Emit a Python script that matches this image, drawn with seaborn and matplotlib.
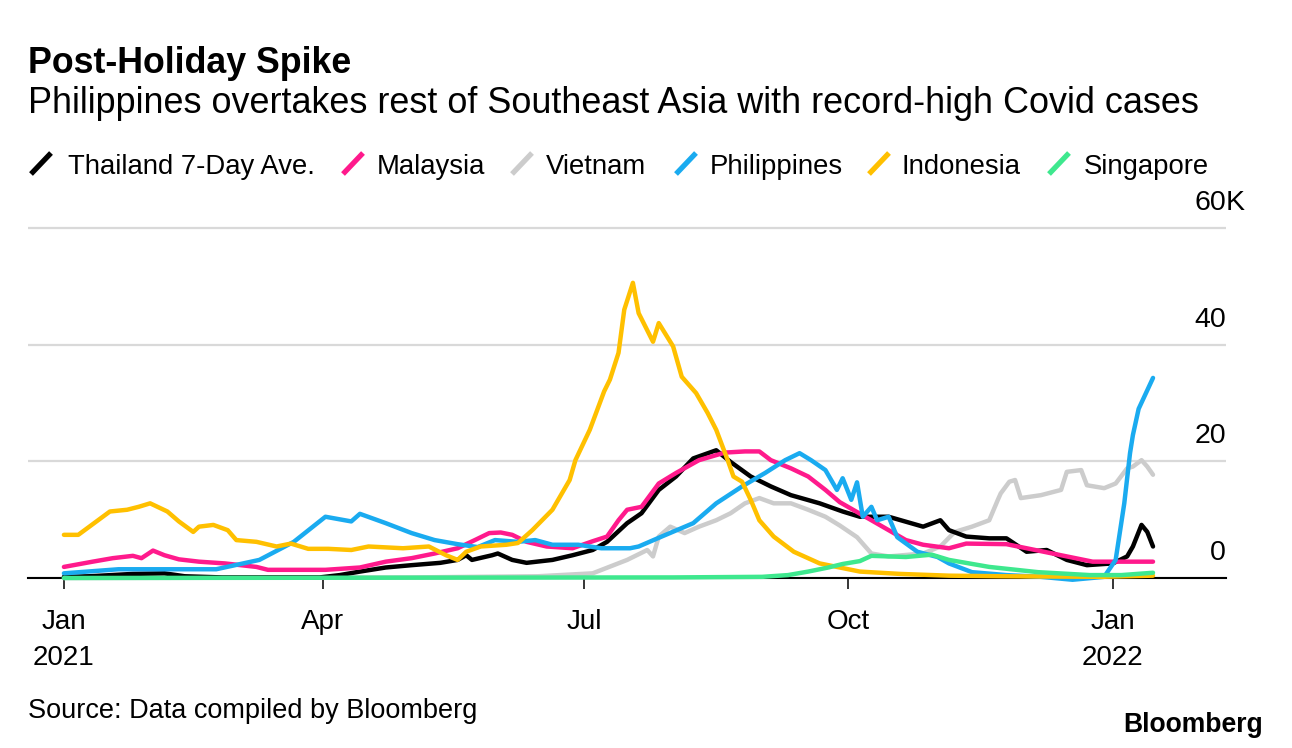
import numpy as np
import pandas as pd
import matplotlib
matplotlib.use("Agg")
import matplotlib.pyplot as plt
import seaborn as sns
from matplotlib.lines import Line2D
from matplotlib import font_manager

# ---------------- data (thousands of daily cases, 7-day average) ----------------
countries = ["Thailand 7-Day Ave.", "Malaysia", "Vietnam", "Philippines", "Indonesia", "Singapore"]
colors = ["#000000", "#ff1a8c", "#cccccc", "#1aabf0", "#ffc000", "#3ee88e"]

thailand_dates = ["2021-01-01", "2021-01-10", "2021-01-25", "2021-02-05", "2021-02-12", "2021-02-25",
                  "2021-03-31", "2021-04-07", "2021-04-14", "2021-04-23", "2021-05-02", "2021-05-12",
                  "2021-05-18", "2021-05-21", "2021-05-23", "2021-05-30", "2021-06-01", "2021-06-06",
                  "2021-06-11", "2021-06-20", "2021-06-27", "2021-07-04", "2021-07-09", "2021-07-16",
                  "2021-07-21", "2021-07-27", "2021-08-02", "2021-08-08", "2021-08-16", "2021-08-21",
                  "2021-08-28", "2021-09-04", "2021-09-11", "2021-09-21", "2021-09-29", "2021-10-05",
                  "2021-10-15", "2021-10-27", "2021-11-02", "2021-11-05", "2021-11-11", "2021-11-19",
                  "2021-11-25", "2021-12-02", "2021-12-09", "2021-12-16", "2021-12-23", "2022-01-01",
                  "2022-01-06", "2022-01-08", "2022-01-11", "2022-01-13", "2022-01-15"]
thailand_vals = [0.2, 0.3, 0.7, 0.8, 0.3, 0.1,
                 0.1, 0.5, 1.1, 1.8, 2.2, 2.6,
                 3.1, 3.9, 3.1, 3.9, 4.2, 3.1,
                 2.6, 3.1, 3.9, 4.8, 6.2, 9.4,
                 11.1, 15.1, 17.4, 20.5, 21.9, 19.9,
                 17.4, 15.7, 14.2, 12.8, 11.4, 10.5,
                 10.5, 8.8, 9.9, 8.2, 7.1, 6.8,
                 6.8, 4.5, 4.8, 3.1, 2.2, 2.5,
                 3.7, 5.4, 9.1, 7.9, 5.4]

malaysia_dates = ["2021-01-01", "2021-01-11", "2021-01-18", "2021-01-25", "2021-01-28", "2021-02-01",
                  "2021-02-05", "2021-02-10", "2021-02-17", "2021-02-26", "2021-03-09", "2021-03-13",
                  "2021-04-02", "2021-04-14", "2021-04-23", "2021-05-02", "2021-05-10", "2021-05-18",
                  "2021-05-24", "2021-05-29", "2021-06-02", "2021-06-06", "2021-06-11", "2021-06-18",
                  "2021-06-27", "2021-07-04", "2021-07-09", "2021-07-13", "2021-07-16", "2021-07-21",
                  "2021-07-27", "2021-08-02", "2021-08-10", "2021-08-19", "2021-08-26", "2021-08-31",
                  "2021-09-04", "2021-09-11", "2021-09-17", "2021-09-23", "2021-09-28", "2021-10-09",
                  "2021-10-21", "2021-10-27", "2021-11-05", "2021-11-11", "2021-11-25", "2021-12-02",
                  "2021-12-16", "2021-12-25", "2022-01-04", "2022-01-15"]
malaysia_vals = [1.9, 2.8, 3.4, 3.8, 3.4, 4.7,
                 3.9, 3.2, 2.8, 2.5, 1.9, 1.4,
                 1.4, 1.8, 2.8, 3.4, 4.2, 5.1,
                 6.5, 7.7, 7.8, 7.4, 6.2, 5.4,
                 5.1, 6.3, 7.1, 9.9, 11.7, 12.2,
                 16.2, 18.0, 20.2, 21.5, 21.7, 21.7,
                 20.2, 18.8, 17.4, 15.1, 13.0, 9.9,
                 6.5, 5.7, 5.1, 5.9, 5.8, 5.1,
                 3.7, 2.8, 2.8, 2.8]

vietnam_dates = ["2021-01-01", "2021-05-01", "2021-06-15", "2021-07-04", "2021-07-16", "2021-07-23",
                 "2021-07-25", "2021-07-27", "2021-07-31", "2021-08-05", "2021-08-10", "2021-08-16",
                 "2021-08-21", "2021-08-26", "2021-08-31", "2021-09-05", "2021-09-11", "2021-09-17",
                 "2021-09-23", "2021-09-28", "2021-10-04", "2021-10-09", "2021-10-15", "2021-10-27",
                 "2021-11-02", "2021-11-07", "2021-11-13", "2021-11-19", "2021-11-22", "2021-11-23",
                 "2021-11-26", "2021-11-28", "2021-11-30", "2021-12-07", "2021-12-14", "2021-12-16",
                 "2021-12-21", "2021-12-23", "2021-12-29", "2022-01-02", "2022-01-06", "2022-01-08",
                 "2022-01-11", "2022-01-13", "2022-01-15"]
vietnam_vals = [0.0, 0.1, 0.3, 0.8, 3.1, 4.8,
                3.7, 7.1, 8.8, 7.7, 8.8, 9.9,
                11.1, 12.8, 13.7, 12.8, 12.8, 11.7,
                10.5, 9.0, 7.0, 4.2, 3.7, 4.2,
                5.4, 7.9, 8.8, 9.9, 13.4, 14.5,
                16.5, 16.8, 13.7, 14.2, 15.1, 18.2,
                18.5, 15.9, 15.4, 16.2, 18.8, 19.1,
                20.2, 19.1, 17.7]

philippines_dates = ["2021-01-01", "2021-01-20", "2021-02-23", "2021-03-10", "2021-03-22", "2021-04-02",
                     "2021-04-11", "2021-04-14", "2021-04-23", "2021-05-02", "2021-05-10", "2021-05-18",
                     "2021-05-25", "2021-05-31", "2021-06-08", "2021-06-14", "2021-06-20", "2021-06-29",
                     "2021-07-07", "2021-07-17", "2021-07-20", "2021-07-28", "2021-08-08", "2021-08-16",
                     "2021-08-25", "2021-09-02", "2021-09-09", "2021-09-14", "2021-09-18", "2021-09-23",
                     "2021-09-27", "2021-09-29", "2021-10-02", "2021-10-04", "2021-10-06", "2021-10-09",
                     "2021-10-11", "2021-10-15", "2021-10-18", "2021-10-25", "2021-11-01", "2021-11-05",
                     "2021-11-13", "2021-11-25", "2021-12-07", "2021-12-18", "2021-12-29", "2022-01-02",
                     "2022-01-05", "2022-01-07", "2022-01-08", "2022-01-10", "2022-01-15"]
philippines_vals = [0.8, 1.5, 1.5, 3.1, 6.2, 10.5,
                    9.7, 11.0, 9.4, 7.7, 6.5, 5.8,
                    5.3, 6.5, 6.2, 6.5, 5.7, 5.7,
                    5.1, 5.1, 5.4, 7.1, 9.4, 12.8,
                    15.7, 18.0, 20.2, 21.4, 20.2, 18.5,
                    15.1, 17.1, 13.4, 16.4, 10.5, 12.2,
                    9.9, 10.5, 7.0, 4.5, 3.6, 2.5,
                    1.0, 0.5, 0.2, -0.3, 0.2, 3.1,
                    12.8, 21.4, 24.5, 29.0, 34.3]

indonesia_dates = ["2021-01-01", "2021-01-06", "2021-01-17", "2021-01-23", "2021-01-27", "2021-01-31",
                   "2021-02-06", "2021-02-10", "2021-02-15", "2021-02-17", "2021-02-22", "2021-02-27",
                   "2021-03-02", "2021-03-09", "2021-03-16", "2021-03-21", "2021-03-27", "2021-04-03",
                   "2021-04-11", "2021-04-17", "2021-04-29", "2021-05-08", "2021-05-14", "2021-05-18",
                   "2021-05-21", "2021-05-26", "2021-06-04", "2021-06-08", "2021-06-13", "2021-06-20",
                   "2021-06-22", "2021-06-26", "2021-06-28", "2021-07-03", "2021-07-08", "2021-07-10",
                   "2021-07-13", "2021-07-15", "2021-07-18", "2021-07-20", "2021-07-25", "2021-07-27",
                   "2021-08-01", "2021-08-04", "2021-08-09", "2021-08-13", "2021-08-16", "2021-08-20",
                   "2021-08-22", "2021-08-25", "2021-08-28", "2021-08-31", "2021-09-05", "2021-09-12",
                   "2021-09-21", "2021-09-29", "2021-10-05", "2021-10-19", "2021-11-05", "2021-11-23",
                   "2021-12-28", "2022-01-15"]
indonesia_vals = [7.4, 7.4, 11.4, 11.7, 12.2, 12.8,
                  11.4, 9.7, 7.9, 8.8, 9.1, 8.2,
                  6.5, 6.2, 5.4, 5.9, 5.0, 5.0,
                  4.8, 5.4, 5.1, 5.4, 3.9, 3.1,
                  4.5, 5.4, 5.7, 6.0, 8.2, 11.7,
                  13.4, 16.8, 20.2, 25.4, 32.0, 34.0,
                  38.6, 46.0, 50.6, 45.4, 40.5, 43.7,
                  39.7, 34.5, 31.7, 28.3, 25.4, 20.2,
                  17.4, 16.5, 13.4, 9.9, 7.1, 4.5,
                  2.5, 1.7, 1.1, 0.7, 0.4, 0.3,
                  0.2, 0.4]

singapore_dates = ["2021-01-01", "2021-08-01", "2021-09-01", "2021-09-10", "2021-09-17", "2021-09-24",
                   "2021-09-29", "2021-10-05", "2021-10-09", "2021-10-21", "2021-10-30", "2021-11-05",
                   "2021-11-19", "2021-12-06", "2021-12-24", "2022-01-04", "2022-01-15"]
singapore_vals = [0.0, 0.1, 0.2, 0.5, 1.1, 1.8,
                  2.4, 2.9, 3.8, 3.6, 4.0, 3.1,
                  1.9, 1.0, 0.5, 0.5, 0.9]

x_ticks = ["2021-01-01", "2021-04-01", "2021-07-01", "2021-10-01", "2022-01-01"]
x_tick_labels = ["Jan\n2021", "Apr", "Jul", "Oct", "Jan\n2022"]
y_ticks = [0, 20, 40, 60]
y_tick_labels = ["0", "20", "40", "60"]

title = "Post-Holiday Spike"
subtitle = "Philippines overtakes rest of Southeast Asia with record-high Covid cases"
source = "Source: Data compiled by Bloomberg"

# ---------------- build long-form frame ----------------
series = {
    "Thailand 7-Day Ave.": (thailand_dates, thailand_vals),
    "Malaysia": (malaysia_dates, malaysia_vals),
    "Vietnam": (vietnam_dates, vietnam_vals),
    "Philippines": (philippines_dates, philippines_vals),
    "Indonesia": (indonesia_dates, indonesia_vals),
    "Singapore": (singapore_dates, singapore_vals),
}
frames = []
for name, (d, v) in series.items():
    frames.append(pd.DataFrame({"date": pd.to_datetime(d), "cases": v, "country": name}))
df = pd.concat(frames, ignore_index=True)

# ---------------- style ----------------
sns.set_theme(style="white", rc={"text.color": "black", "axes.labelcolor": "black",
                                 "xtick.color": "black", "ytick.color": "black"})
plt.rcParams['font.family'] = ['Liberation Sans', 'DejaVu Sans']

installed = {f.name for f in font_manager.fontManager.ttflist}
logo_family = ['Liberation Sans Narrow', 'Liberation Sans'] if 'Liberation Sans Narrow' in installed \
    else ['Liberation Sans', 'DejaVu Sans']

W, H = 1292, 748
fig = plt.figure(figsize=(W / 100, H / 100), dpi=100)


def fx(px):
    return px / W


def fy(py):
    return 1 - py / H


PX_PER_K = (578 - 228) / 60.0
ytop = 60.3
ax_top_px = 578 - ytop * PX_PER_K
ax = fig.add_axes([fx(28), fy(578), fx(1226) - fx(28), fy(ax_top_px) - fy(578)])

palette = dict(zip(countries, colors))
draw_order = ["Vietnam", "Thailand 7-Day Ave.", "Malaysia", "Philippines", "Indonesia", "Singapore"]
sns.lineplot(data=df, x="date", y="cases", hue="country", hue_order=draw_order,
             palette=palette, linewidth=3.2, estimator=None, legend=False, ax=ax)
for ln in ax.lines:
    ln.set_clip_on(False)
    ln.set_solid_capstyle("round")
    ln.set_solid_joinstyle("round")

start = pd.Timestamp("2021-01-01")
ax.set_xlim(start - pd.Timedelta(days=12.5), start + pd.Timedelta(days=404.4))
ax.set_ylim(0, ytop)
ax.set_xlabel("")
ax.set_ylabel("")

for s in ["top", "right", "left"]:
    ax.spines[s].set_visible(False)
ax.spines["bottom"].set_color("black")
ax.spines["bottom"].set_linewidth(1.5)
ax.spines["bottom"].set_zorder(1.5)

ax.set_yticks(y_ticks)
ax.yaxis.grid(True, color="#d9d9d9", linewidth=1.6)
ax.set_axisbelow(True)
ax.tick_params(axis="y", length=0, labelleft=False, labelright=False)

fig.canvas.draw()
renderer = fig.canvas.get_renderer()


def fit(t, target_px):
    w = t.get_window_extent(renderer).width
    t.set_fontsize(t.get_fontsize() * target_px / w)
    return t.get_fontsize()


fs_tick = 20
fs_legend = 19.8
fs_source = 19.5
fs_y = 20.5

t_sub = fig.text(fx(28), fy(113.3), subtitle, fontsize=24, va="baseline", ha="left")
fit(t_sub, 1171)
t_title = fig.text(fx(28), fy(73.3), title, fontsize=24, weight="bold", va="baseline", ha="left")
fit(t_title, 325)

ax.set_xticks(pd.to_datetime(x_ticks))
ax.set_xticklabels(x_tick_labels, fontsize=fs_tick, linespacing=1.5, ha="center", multialignment="center")
ax.tick_params(axis="x", length=8, width=1.1, color="black", direction="out", pad=14, bottom=True)

ytrans = ax.get_yaxis_transform()
for v, lab in zip(y_ticks, y_tick_labels):
    ax.annotate(lab, xy=(1.0, v), xycoords=ytrans, xytext=(0, 18), textcoords="offset pixels",
                ha="right", va="baseline", fontsize=fs_y, annotation_clip=False)
ax.annotate("K", xy=(1.0, y_ticks[-1]), xycoords=ytrans, xytext=(0, 18), textcoords="offset pixels",
            ha="left", va="baseline", fontsize=fs_y, annotation_clip=False)

# legend (manual, Bloomberg style slashes)
slash_x = [30, 342, 511, 675, 868, 1048]
text_x = [68, 377, 546, 710, 902, 1084]
for name, c, sx, tx in zip(countries, colors, slash_x, text_x):
    fig.add_artist(Line2D([fx(sx + 1), fx(sx + 21)], [fy(174), fy(153)], color=c, lw=3.8,
                          solid_capstyle="butt"))
    fig.text(fx(tx), fy(173.5), name, fontsize=fs_legend, va="baseline", ha="left")

fig.text(fx(28), fy(718.3), source, fontsize=fs_source, va="baseline", ha="left")
t_logo = fig.text(fx(1263), fy(731.7), "Bloomberg", fontsize=22, weight="bold", va="baseline",
                  ha="right", family=logo_family)
fit(t_logo, 140)

fig.savefig("out.png", dpi=100, facecolor="white")
